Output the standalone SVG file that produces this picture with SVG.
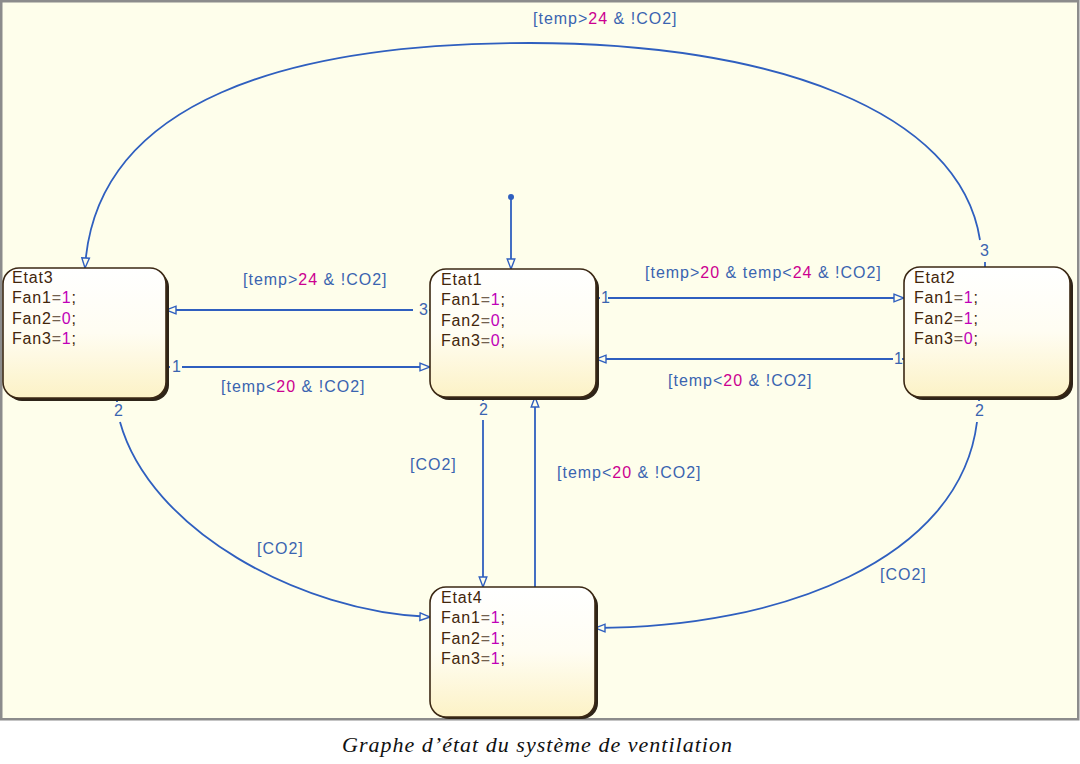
<svg xmlns="http://www.w3.org/2000/svg" width="1080" height="764" viewBox="0 0 1080 764">
<style>
.frame{fill:#fefeeb;stroke:#8c8c8c;stroke-width:2.5}
.shadow{fill:#2e2418}
.box{stroke:#3b2814;stroke-width:1.6;fill:url(#g)}
.st{font-family:"Liberation Sans",Arial,sans-serif;font-size:16px;letter-spacing:0.8px;fill:#42260c}
.eq{fill:#72604e}
.v{fill:#c000b8}
.lbl{font-family:"Liberation Sans",Arial,sans-serif;font-size:16px;letter-spacing:1px;fill:#3a64b0}
.n{fill:#cc0090}
.c{fill:none;stroke:#2f5fbf;stroke-width:1.8}
.arr{marker-end:url(#ah)}
.cap{font-family:"Liberation Serif","Times New Roman",serif;font-style:italic;font-size:22px;fill:#111}
</style>
<defs>
<linearGradient id="g" x1="0" y1="0" x2="0" y2="1">
<stop offset="0" stop-color="#ffffff"/>
<stop offset="0.5" stop-color="#fffdf2"/>
<stop offset="1" stop-color="#fcf2c6"/>
</linearGradient>
<marker id="ah" markerWidth="12" markerHeight="10" refX="11" refY="5" orient="auto" markerUnits="userSpaceOnUse">
<path d="M1,1.2 L11,5 L1,8.8 z" fill="#fefeeb" stroke="#2f5fbf" stroke-width="1.4"/>
</marker>
</defs>
<rect class="frame" x="1.25" y="1.25" width="1077" height="718"/>

<g id="connectors">
<circle cx="511" cy="197" r="3" fill="#2f5fbf"/>
<path class="c arr" d="M511 197 L511 269"/>
<path class="c arr" d="M413 310 L166 310"/>
<path class="c" d="M429 310 L432 310"/>
<path class="c arr" d="M182 367 L430 367"/>
<path class="c" d="M166 367 L170 367"/>
<path class="c arr" d="M608 298 L904 298"/>
<path class="c" d="M596 298 L600 298"/>
<path class="c arr" d="M893 359 L596 359"/>
<path class="c" d="M902 359 L905 359"/>
<path class="c arr" d="M483 420 L483 587"/>
<path class="c" d="M483 397 L483 401"/>
<path class="c arr" d="M535 587 L535 397"/>
<path class="c arr" d="M120 422 C150 530 300 612 430 617"/>
<path class="c" d="M117 398 L117 402"/>
<path class="c arr" d="M977 422 C960 560 780 628 595 628"/>
<path class="c" d="M979 397 L979 401"/>
<path class="c arr" d="M980 240 C960 110 770 43 530 43 C290 43 95 100 85 268"/>
<path class="c" d="M985 262 L985 267"/>

<text class="lbl" x="533" y="24">[temp&gt;<tspan class="n">24</tspan> &amp; !CO2]</text>
<text class="lbl" x="243" y="285">[temp&gt;<tspan class="n">24</tspan> &amp; !CO2]</text>
<text class="lbl" x="221" y="392">[temp&lt;<tspan class="n">20</tspan> &amp; !CO2]</text>
<text class="lbl" x="645" y="278">[temp&gt;<tspan class="n">20</tspan> &amp; temp&lt;<tspan class="n">24</tspan> &amp; !CO2]</text>
<text class="lbl" x="668" y="386">[temp&lt;<tspan class="n">20</tspan> &amp; !CO2]</text>
<text class="lbl" x="410" y="470">[CO2]</text>
<text class="lbl" x="557" y="478">[temp&lt;<tspan class="n">20</tspan> &amp; !CO2]</text>
<text class="lbl" x="257" y="554">[CO2]</text>
<text class="lbl" x="880" y="580">[CO2]</text>

<text class="lbl" x="419" y="315">3</text>
<text class="lbl" x="172" y="372">1</text>
<text class="lbl" x="601" y="303">1</text>
<text class="lbl" x="894" y="364">1</text>
<text class="lbl" x="479" y="415">2</text>
<text class="lbl" x="114" y="416">2</text>
<text class="lbl" x="975" y="416">2</text>
<text class="lbl" x="980" y="256">3</text>
</g>

<g id="Etat3">
<rect class="shadow" x="6" y="271" width="163" height="130" rx="16"/>
<rect class="box" x="3" y="268" width="163" height="130" rx="16"/>
<text class="st" x="12" y="283">Etat3</text>
<text class="st" x="12" y="303">Fan1<tspan class="eq">=</tspan><tspan class="v">1</tspan>;</text>
<text class="st" x="12" y="324">Fan2<tspan class="eq">=</tspan><tspan class="v">0</tspan>;</text>
<text class="st" x="12" y="344">Fan3<tspan class="eq">=</tspan><tspan class="v">1</tspan>;</text>
</g>

<g id="Etat1">
<rect class="shadow" x="433" y="272" width="166" height="128" rx="16"/>
<rect class="box" x="430" y="269" width="166" height="128" rx="16"/>
<text class="st" x="441" y="285">Etat1</text>
<text class="st" x="441" y="305">Fan1<tspan class="eq">=</tspan><tspan class="v">1</tspan>;</text>
<text class="st" x="441" y="326">Fan2<tspan class="eq">=</tspan><tspan class="v">0</tspan>;</text>
<text class="st" x="441" y="346">Fan3<tspan class="eq">=</tspan><tspan class="v">0</tspan>;</text>
</g>

<g id="Etat2">
<rect class="shadow" x="907" y="270" width="166" height="130" rx="16"/>
<rect class="box" x="904" y="267" width="166" height="130" rx="16"/>
<text class="st" x="914" y="283">Etat2</text>
<text class="st" x="914" y="303">Fan1<tspan class="eq">=</tspan><tspan class="v">1</tspan>;</text>
<text class="st" x="914" y="324">Fan2<tspan class="eq">=</tspan><tspan class="v">1</tspan>;</text>
<text class="st" x="914" y="344">Fan3<tspan class="eq">=</tspan><tspan class="v">0</tspan>;</text>
</g>

<g id="Etat4">
<rect class="shadow" x="433" y="590" width="165" height="129" rx="16"/>
<rect class="box" x="430" y="587" width="165" height="130" rx="16"/>
<text class="st" x="441" y="603">Etat4</text>
<text class="st" x="441" y="623">Fan1<tspan class="eq">=</tspan><tspan class="v">1</tspan>;</text>
<text class="st" x="441" y="644">Fan2<tspan class="eq">=</tspan><tspan class="v">1</tspan>;</text>
<text class="st" x="441" y="664">Fan3<tspan class="eq">=</tspan><tspan class="v">1</tspan>;</text>
</g>

<text class="cap" x="342" y="752" textLength="390" lengthAdjust="spacing">Graphe d’état du système de ventilation</text>
</svg>
